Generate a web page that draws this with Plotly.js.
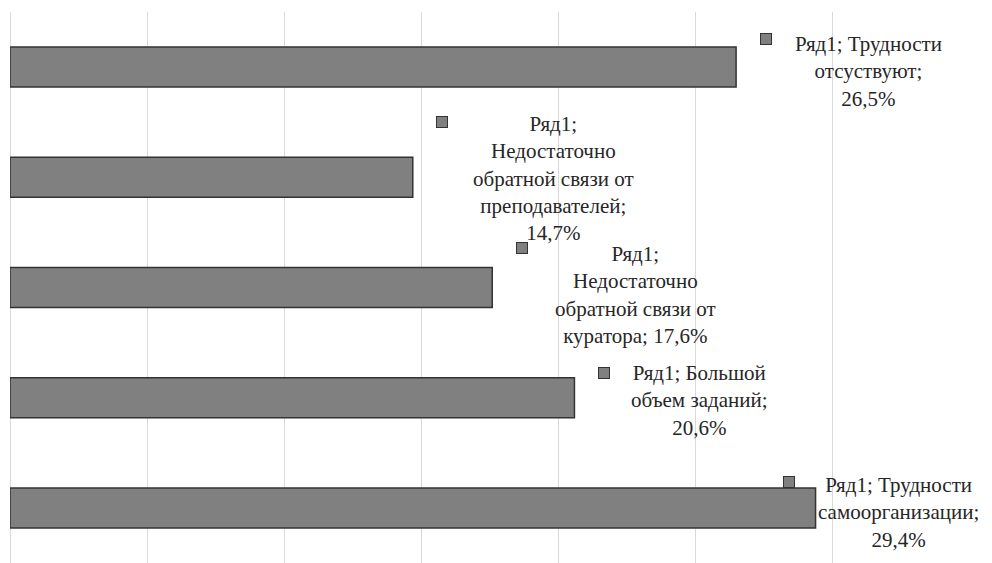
<!DOCTYPE html>
<html>
<head>
<meta charset="utf-8">
<script src="https://cdn.plot.ly/plotly-3.0.1.min.js"></script>
<style>
html,body{margin:0;padding:0;background:#fff;overflow:hidden;}
#chart{width:992px;height:563px;}
</style>
</head>
<body>
<div id="chart"></div>
<script>
// ---- data ----
var seriesName = "Ряд1";
var categories = [
  "Трудности отсуствуют",
  "Недостаточно обратной связи от преподавателей",
  "Недостаточно обратной связи от куратора",
  "Большой объем заданий",
  "Трудности самоорганизации"
];
var values = [26.5, 14.7, 17.6, 20.6, 29.4];
var labelTexts = [
  "Ряд1; Трудности<br>отсуствуют;<br>26,5%",
  "Ряд1;<br>Недостаточно<br>обратной связи от<br>преподавателей;<br>14,7%",
  "Ряд1;<br>Недостаточно<br>обратной связи от<br>куратора; 17,6%",
  "Ряд1; Большой<br>объем заданий;<br>20,6%",
  "Ряд1; Трудности<br>самоорганизации;<br>29,4%"
];

// ---- layout helpers (pixel offsets of labels from bar ends) ----
var textOffsets = [[132, 4], [141, 1.5], [143, 7], [125, 3], [83, 4.5]];
var keyOffsets  = [[30, -28.5], [29, -55], [30, -40], [30, -25], [-27, -26]];

var FONT = "Liberation Serif";

var annotations = [];
for (var i = 0; i < categories.length; i++) {
  annotations.push({
    x: values[i], y: categories[i], xref: 'x', yref: 'y',
    text: labelTexts[i], showarrow: false,
    xanchor: 'center', yanchor: 'middle', align: 'center',
    xshift: textOffsets[i][0], yshift: -textOffsets[i][1],
    font: {family: FONT, size: 21, color: '#262626'}
  });
  annotations.push({
    x: values[i], y: categories[i], xref: 'x', yref: 'y',
    text: ' ', showarrow: false, width: 10, height: 10,
    xanchor: 'center', yanchor: 'middle',
    xshift: keyOffsets[i][0], yshift: -keyOffsets[i][1],
    bgcolor: '#808080', bordercolor: '#333333', borderwidth: 1, borderpad: 0,
    font: {family: FONT, size: 2, color: '#808080'}
  });
}

var trace = {
  type: 'bar', orientation: 'h',
  x: values, y: categories, name: seriesName,
  marker: {color: '#808080', line: {color: '#333333', width: 1.5}},
  hoverinfo: 'x+y'
};

var layout = {
  width: 992, height: 563,
  margin: {l: 10, r: 23, t: 12, b: 0, pad: 0},
  paper_bgcolor: '#ffffff', plot_bgcolor: '#ffffff',
  showlegend: false,
  font: {family: FONT},
  bargap: 0.637,
  xaxis: {
    range: [0, 35], dtick: 5, tick0: 0,
    showgrid: true, gridcolor: '#d9d9d9', gridwidth: 1,
    zeroline: true, zerolinecolor: '#d9d9d9', zerolinewidth: 1,
    showticklabels: false, ticks: '', showline: false
  },
  yaxis: {
    type: 'category', autorange: 'reversed',
    showgrid: false, zeroline: false, showticklabels: false, ticks: '', showline: false
  },
  annotations: annotations
};

Plotly.newPlot('chart', [trace], layout, {displayModeBar: false});
</script>
</body>
</html>
